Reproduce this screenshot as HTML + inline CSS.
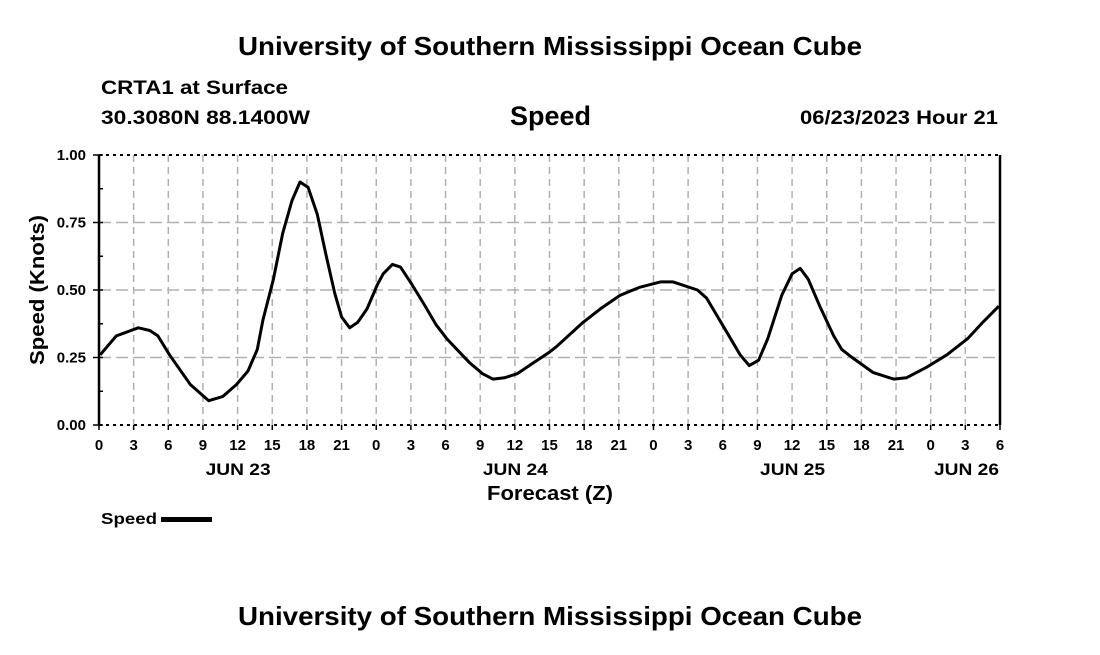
<!DOCTYPE html>
<html><head><meta charset="utf-8"><style>
body{margin:0;background:#fff;}
svg text{font-family:"Liberation Sans",Arial,sans-serif;font-weight:bold;fill:#000;}
</style></head><body>
<svg width="1100" height="650" viewBox="0 0 1100 650">
<text x="238" y="55" font-size="26" textLength="624" lengthAdjust="spacingAndGlyphs">University of Southern Mississippi Ocean Cube</text>
<text x="101" y="94" font-size="19" textLength="187" lengthAdjust="spacingAndGlyphs">CRTA1 at Surface</text>
<text x="101" y="124" font-size="19" textLength="209" lengthAdjust="spacingAndGlyphs">30.3080N  88.1400W</text>
<text x="510" y="125" font-size="27" textLength="81" lengthAdjust="spacingAndGlyphs">Speed</text>
<text x="800" y="124" font-size="19" textLength="198" lengthAdjust="spacingAndGlyphs">06/23/2023 Hour 21</text>
<g id="grid"></g>
<g id="axes"></g>
<path id="line" fill="none" stroke="#000" stroke-width="3" stroke-linejoin="round"/>
<text x="487" y="500" font-size="20" textLength="126" lengthAdjust="spacingAndGlyphs">Forecast (Z)</text>
<text transform="translate(44,365) rotate(-90)" font-size="20" textLength="150" lengthAdjust="spacingAndGlyphs">Speed (Knots)</text>
<text x="101" y="524" font-size="16" textLength="56" lengthAdjust="spacingAndGlyphs">Speed</text>
<rect x="161" y="517" width="51" height="5" fill="#000"/>
<text x="238" y="625" font-size="26" textLength="624" lengthAdjust="spacingAndGlyphs">University of Southern Mississippi Ocean Cube</text>
</svg>
<script>
const hours=[0.1,1.5,3.4,4.4,5.1,6.1,7.9,9.5,10.7,11.9,12.9,13.7,14.2,15.1,15.9,16.7,17.4,18.1,18.9,19.7,20.4,21.0,21.7,22.4,23.2,24.1,24.6,25.4,26.1,27.1,28.1,29.2,30.1,31.1,32.1,33.2,34.1,35.1,36.2,37.6,39.0,39.6,41.9,43.4,45.1,46.8,48.6,49.7,51.8,52.6,54.4,55.5,56.3,57.1,57.9,59.1,60.0,60.7,61.4,62.4,63.6,64.3,65.2,67.0,68.8,69.9,71.7,73.4,75.2,76.5,77.9];
const speeds=[0.26,0.33,0.36,0.35,0.33,0.26,0.15,0.09,0.105,0.15,0.20,0.28,0.39,0.54,0.71,0.83,0.90,0.88,0.78,0.62,0.49,0.40,0.36,0.38,0.43,0.52,0.56,0.595,0.585,0.52,0.45,0.37,0.32,0.275,0.23,0.19,0.17,0.175,0.19,0.23,0.27,0.29,0.38,0.43,0.48,0.51,0.53,0.53,0.50,0.47,0.34,0.26,0.22,0.24,0.32,0.48,0.56,0.58,0.54,0.44,0.33,0.28,0.25,0.195,0.17,0.175,0.215,0.26,0.32,0.38,0.44];
const yTicks=[0,0.25,0.5,0.75,1.0];
const yTickLabels=["0.00","0.25","0.50","0.75","1.00"];
const xTickLabels=["0","3","6","9","12","15","18","21","0","3","6","9","12","15","18","21","0","3","6","9","12","15","18","21","0","3","6"];
const dayLabels=["JUN 23","JUN 24","JUN 25","JUN 26"];
const dayHours=[12,36,60,72+6];
const L=99,R=1000,T=155,B=425,H=78;
const X=h=>L+(R-L)*h/H, Y=v=>B-(B-T)*v;
const NS="http://www.w3.org/2000/svg";
function mk(parent,tag,attrs,txt){const e=document.createElementNS(NS,tag);for(const k in attrs)e.setAttribute(k,attrs[k]);if(txt!==undefined)e.textContent=txt;parent.appendChild(e);return e;}
const grid=document.getElementById('grid'),axes=document.getElementById('axes');
xTickLabels.forEach((lab,i)=>{const x=X(i*3);
 if(i>0&&i<xTickLabels.length-1){const g=mk(grid,'line',{x1:x,x2:x,y1:T,y2:B,stroke:'#b0b0b0','stroke-width':1.5,'stroke-dasharray':'7,5'});
 }
 const tk=mk(axes,'line',{x1:x,x2:x,y1:B,y2:B+5,stroke:'#000','stroke-width':1.5});
 
 const t=mk(axes,'text',{x:x,y:450,'font-size':15,'text-anchor':'middle'},lab);
 });
dayLabels.forEach((d,i)=>{const x=i==3?966:X(dayHours[i]);const t=mk(axes,'text',{x:x-32,y:475,'font-size':17,textLength:65,lengthAdjust:'spacingAndGlyphs'},d);
 });
yTicks.forEach((v,i)=>{const y=Y(v);
 if(v>0&&v<1){const g=mk(grid,'line',{x1:L,x2:R,y1:y,y2:y,stroke:'#b0b0b0','stroke-width':1.5,'stroke-dasharray':'12,5'});
 }
 const t=mk(axes,'text',{x:86,y:y+5,'font-size':15,'text-anchor':'end'},yTickLabels[i]);
 
 const tk=mk(axes,'line',{x1:L-6,x2:L+4,y1:y,y2:y,stroke:'#000','stroke-width':1.5});
 });
for(let k=1;k<8;k+=2){const y=Y(k*0.125);const tk=mk(axes,'line',{x1:L,x2:L+4,y1:y,y2:y,stroke:'#000','stroke-width':1.5});
 }
[[L,T,R,T],[L,B,R,B]].forEach(a=>{const l=mk(axes,'line',{x1:a[0],y1:a[1],x2:a[2],y2:a[3],stroke:'#000','stroke-width':2,'stroke-dasharray':'3,4'});
 });
[[L],[R]].forEach(a=>{const l=mk(axes,'line',{x1:a[0],y1:T,x2:a[0],y2:B,stroke:'#000','stroke-width':2.5});
 });
document.getElementById('line').setAttribute('d',hours.map((h,i)=>(i?'L':'M')+X(h).toFixed(1)+','+Y(speeds[i]).toFixed(1)).join(''));
</script>
</body></html>
